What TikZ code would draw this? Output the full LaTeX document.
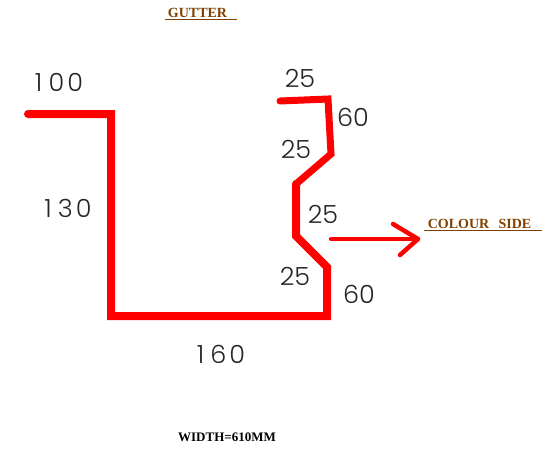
\documentclass[tikz,border=0pt]{standalone}
\usepackage{fontspec}
\usetikzlibrary{calc}
\newfontfamily\dimfont{Poppins Light}
\setmainfont{Liberation Serif}
\definecolor{notebrown}{RGB}{128,64,0}
\begin{document}
\begin{tikzpicture}
	[   x=1pt,y=-1pt,
		dimlabel/.style={inner sep=0pt,font=\dimfont\fontsize{25}{25}\selectfont,text=black!85,xscale=1.02},
		notelabel/.style={inner sep=0pt,font=\bfseries\fontsize{14}{14}\selectfont,text=notebrown},
	]
	\tikzset{profile line/.style={draw=red,line width=8pt,line join=miter,line cap=round}}
	\tikzset{side arrow/.style={draw=red,line width=4.5pt,line join=round,line cap=round}}
	\useasboundingbox (0,0) rectangle (557,448);
	
	\coordinate (p-1) at (28,114);
	\coordinate (p-2) at (111,114);
	\coordinate (p-3) at (111,316);
	\coordinate (p-4) at (327,316);
	\coordinate (p-5) at (327,267);
	\coordinate (p-6) at (296,236);
	\coordinate (p-7) at (296,184);
	\coordinate (p-8) at (331,154);
	\coordinate (p-9) at (328,99);
	\coordinate (p-10) at (280,101);
	\path[profile line] (p-1) -- (p-2) -- (p-3) -- (p-4) -- (p-5) -- (p-6) -- (p-7);
	\path[profile line,line width=7pt] (p-7) -- (p-8) -- (p-9) -- (p-10);
	
	\node[dimlabel] (d-100) at (59,82) {1\kern6pt0\kern3pt0};
	\node[dimlabel] (d-130) at (68,208) {1\kern6pt3\kern3pt0};
	\node[dimlabel] (d-160) at (221,354) {1\kern6pt6\kern3pt0};
	\node[dimlabel] (d-25a) at (300,78) {25};
	\node[dimlabel] (d-60a) at (353,117) {60};
	\node[dimlabel] (d-25b) at (296,149) {25};
	\node[dimlabel] (d-25c) at (323,214) {25};
	\node[dimlabel] (d-25d) at (295,276) {25};
	\node[dimlabel] (d-60b) at (359,294) {60};
	
	\coordinate (a-s) at (331,239);
	\coordinate (a-t) at (418,239);
	\coordinate (a-u) at (393,224);
	\coordinate (a-l) at (400,255);
	\path[side arrow] (a-s) -- (a-t);
	\path[side arrow] (a-u) -- (a-t) -- (a-l);
	
	\node[notelabel] (gutter) at (197.5,13) {GUTTER};
	\draw[notebrown,line width=1pt] ($(gutter.base)+(-33,2)$) -- ($(gutter.base)+(39.5,2)$);
	\node[notelabel] (colour) at (479.5,224) {COLOUR\ \ \,SIDE};
	\draw[notebrown,line width=1pt] ($(colour.base)+(-56,2)$) -- ($(colour.base)+(62.5,2)$);
	\node[notelabel,text=black,font=\bfseries\fontsize{13}{13}\selectfont] (width) at (227,437) {WIDTH=610MM};
\end{tikzpicture}
\end{document}
